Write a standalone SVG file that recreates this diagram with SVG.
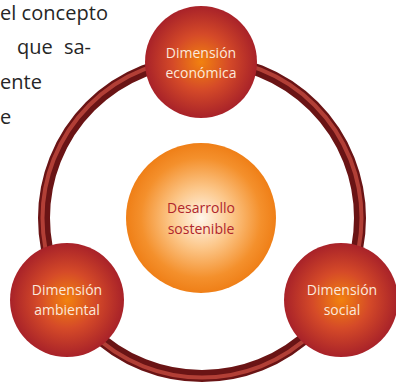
<svg xmlns="http://www.w3.org/2000/svg" width="396" height="383" viewBox="0 0 396 383">
<defs>
<radialGradient id="red" cx="0.5" cy="0.5" r="0.5">
<stop offset="0" stop-color="#f2820f"/>
<stop offset="0.5" stop-color="#d54a28"/>
<stop offset="1" stop-color="#a82229"/>
</radialGradient>
<radialGradient id="orange" cx="0.5" cy="0.5" r="0.5">
<stop offset="0" stop-color="#fff6ea"/>
<stop offset="0.4" stop-color="#fcc78a"/>
<stop offset="0.8" stop-color="#f4902c"/>
<stop offset="1" stop-color="#ef7f17"/>
</radialGradient>
<style>
.body{font-family:"Open Sans","Liberation Sans",sans-serif;font-size:20px;fill:#262626}
.lbl{font-family:"Open Sans","Liberation Sans",sans-serif;font-size:14px;fill:#fbe9dc;text-anchor:middle}
.ctr{font-family:"Open Sans","Liberation Sans",sans-serif;font-size:14px;fill:#b0262c;text-anchor:middle}
</style>
</defs>
<rect width="396" height="383" fill="#fff"/>
<g class="body">
<text x="0" y="20" textLength="108">el concepto</text>
<text x="17" y="54" word-spacing="6">que sa-</text>
<text x="0" y="89">ente</text>
<text x="0" y="124">e</text>
</g>
<g id="connectors">
<circle cx="202" cy="218" r="158" fill="none" stroke="#6a1415" stroke-width="12"/>
<circle cx="202" cy="218" r="159.5" fill="none" stroke="#b23f36" stroke-width="4"/>
</g>
<g id="center">
<circle cx="201" cy="218" r="75" fill="url(#orange)"/>
<text class="ctr" x="201" y="213">Desarrollo</text>
<text class="ctr" x="201" y="234">sostenible</text>
</g>
<g id="economica">
<circle cx="201" cy="62" r="56" fill="url(#red)"/>
<text class="lbl" x="201" y="58">Dimensión</text>
<text class="lbl" x="201" y="78">económica</text>
</g>
<g id="ambiental">
<circle cx="67" cy="300" r="57" fill="url(#red)"/>
<text class="lbl" x="67" y="295">Dimensión</text>
<text class="lbl" x="67" y="315">ambiental</text>
</g>
<g id="social">
<circle cx="341" cy="300" r="57" fill="url(#red)"/>
<text class="lbl" x="342" y="295">Dimensión</text>
<text class="lbl" x="342" y="315">social</text>
</g>
</svg>
